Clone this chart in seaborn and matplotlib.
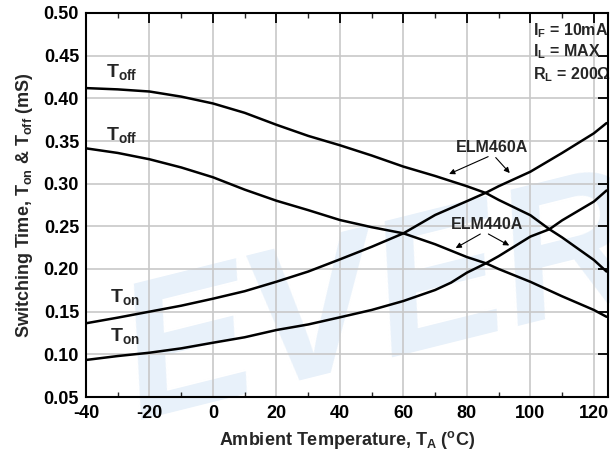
import numpy as np
import pandas as pd
import matplotlib
matplotlib.use("Agg")
import matplotlib.pyplot as plt
import seaborn as sns

# ---- data ----
t_off_460_x = [-40, -30, -20, -10, 0, 10, 20, 30, 40, 50, 60, 70, 80, 86, 90, 100, 106, 110, 120, 124]
t_off_460_y = [0.412, 0.4105, 0.408, 0.402, 0.394, 0.383, 0.369, 0.356, 0.345, 0.333, 0.320, 0.309,
               0.297, 0.289, 0.281, 0.263, 0.2466, 0.237, 0.2106, 0.197]

t_off_440_x = [-40, -30, -20, -10, 0, 10, 20, 30, 40, 50, 60, 70, 80, 86, 90, 100, 110, 120, 124]
t_off_440_y = [0.3414, 0.336, 0.3286, 0.319, 0.3075, 0.293, 0.280, 0.269, 0.2574, 0.249, 0.2418,
               0.229, 0.214, 0.2067, 0.200, 0.185, 0.168, 0.152, 0.144]

t_on_460_x = [-40, -30, -20, -10, 0, 10, 20, 30, 40, 50, 60, 70, 80, 86, 90, 100, 110, 120, 124]
t_on_460_y = [0.1364, 0.143, 0.150, 0.157, 0.1652, 0.174, 0.1851, 0.197, 0.2113, 0.226, 0.2418,
              0.2633, 0.2795, 0.2894, 0.297, 0.314, 0.336, 0.359, 0.371]

t_on_440_x = [-40, -30, -20, -10, 0, 10, 20, 30, 40, 50, 60, 70, 75, 80, 86, 90, 100, 106, 110, 120, 124]
t_on_440_y = [0.0934, 0.098, 0.1019, 0.107, 0.1136, 0.120, 0.1285, 0.135, 0.1434, 0.152, 0.1625,
              0.1754, 0.184, 0.1957, 0.2067, 0.215, 0.238, 0.2466, 0.257, 0.279, 0.292]

x_ticks = [-40, -20, 0, 20, 40, 60, 80, 100, 120]
y_ticks = [0.05, 0.10, 0.15, 0.20, 0.25, 0.30, 0.35, 0.40, 0.45, 0.50]

frames = []
for name, xs, ys in [("ELM460A Toff", t_off_460_x, t_off_460_y),
                     ("ELM440A Toff", t_off_440_x, t_off_440_y),
                     ("ELM460A Ton", t_on_460_x, t_on_460_y),
                     ("ELM440A Ton", t_on_440_x, t_on_440_y)]:
    frames.append(pd.DataFrame({"temp": xs, "time": ys, "series": name}))
df = pd.concat(frames, ignore_index=True)

# ---- style ----
sns.set_theme(style="white")
plt.rcParams["font.family"] = ["Liberation Sans", "DejaVu Sans"]
plt.rcParams["font.weight"] = "bold"
plt.rcParams["mathtext.fontset"] = "custom"
plt.rcParams["mathtext.rm"] = "Liberation Sans:bold"
plt.rcParams["mathtext.bf"] = "Liberation Sans:bold"
plt.rcParams["mathtext.it"] = "Liberation Sans:bold"
plt.rcParams["mathtext.sf"] = "Liberation Sans:bold"

fig = plt.figure(figsize=(6.10, 4.59), dpi=100)
fig.patch.set_facecolor("white")

# watermark
fig.text(0.17, 0.0, "EVER", fontsize=140, fontweight="bold", style="italic",
         color="#e8f1fa", rotation=14, zorder=-1, ha="left", va="bottom")

ax = fig.add_axes([86 / 610, 1 - 397 / 459, (607.5 - 86) / 610, (397 - 13) / 459])
ax.set_facecolor("none")

sns.lineplot(data=df, x="temp", y="time", hue="series", units="series", estimator=None,
             palette=["black"] * 4, linewidth=1.8, legend=False, ax=ax, sort=True, zorder=3)

ax.set_xlim(-40, 124.3)
ax.set_ylim(0.05, 0.50)
ax.set_xticks(x_ticks)
ax.set_yticks(y_ticks)
ax.set_xticks(np.arange(-30, 125, 20), minor=True)
ax.set_xticklabels([str(v) for v in x_ticks])
ax.set_yticklabels([f"{v:.2f}" for v in y_ticks])

ax.grid(True, which="major", color="#c8c8c8", linewidth=1.2, zorder=1)
ax.set_axisbelow(True)
for s in ax.spines.values():
    s.set_color("black")
    s.set_linewidth(1.5)
    s.set_zorder(4)

ax.tick_params(axis="both", which="major", direction="in", length=7, width=1.3,
               top=True, right=True, labelsize=13, colors="black")
ax.tick_params(axis="x", which="minor", direction="in", length=3.5, width=1.0,
               top=True, bottom=True)
ax.tick_params(axis="x", which="major", pad=6)
ax.tick_params(axis="y", which="major", pad=5)
for lab in ax.get_xticklabels() + ax.get_yticklabels():
    lab.set_fontweight("bold")

ax.set_xlabel(r"Ambient Temperature, T$_{\mathregular{A}}$ ($^{\mathregular{o}}$C)",
              fontsize=13, fontweight="bold", labelpad=5)
ax.set_ylabel(r"Switching Time, T$_{\mathregular{on}}$ & T$_{\mathregular{off}}$ (mS)",
              fontsize=13, fontweight="bold", labelpad=6)

# curve labels
lab_kw = dict(fontsize=14, fontweight="bold", ha="left", va="center", zorder=5)
ax.text(-33.6, 0.431, r"T$_{\mathregular{off}}$", **lab_kw)
ax.text(-33.6, 0.357, r"T$_{\mathregular{off}}$", **lab_kw)
ax.text(-32.5, 0.167, r"T$_{\mathregular{on}}$", **lab_kw)
ax.text(-32.5, 0.121, r"T$_{\mathregular{on}}$", **lab_kw)

# conditions text
ax.text(0.857, 0.955, r"I$_{\mathregular{F}}$ = 10mA", transform=ax.transAxes,
        fontsize=11.5, fontweight="bold", ha="left", va="center")
ax.text(0.857, 0.900, r"I$_{\mathregular{L}}$ = MAX", transform=ax.transAxes,
        fontsize=11.5, fontweight="bold", ha="left", va="center")
ax.text(0.857, 0.840, r"R$_{\mathregular{L}}$ = 200Ω", transform=ax.transAxes,
        fontsize=11.5, fontweight="bold", ha="left", va="center")

# device annotations with arrows
arrow_kw = dict(arrowstyle="-|>", color="black", lw=0.8, mutation_scale=8)
ax.text(88.0, 0.3425, "ELM460A", fontsize=11.5, fontweight="bold", ha="center", va="center", zorder=5)
ax.annotate("", xy=(73.6, 0.310), xytext=(87.5, 0.333), arrowprops=arrow_kw)
ax.annotate("", xy=(94.1, 0.310), xytext=(88.5, 0.333), arrowprops=arrow_kw)

ax.text(86.2, 0.2516, "ELM440A", fontsize=11.5, fontweight="bold", ha="center", va="center", zorder=5)
ax.annotate("", xy=(75.7, 0.223), xytext=(85.0, 0.2426), arrowprops=arrow_kw)
ax.annotate("", xy=(94.1, 0.226), xytext=(86.0, 0.2426), arrowprops=arrow_kw)

fig.savefig("out.png", dpi=100)
